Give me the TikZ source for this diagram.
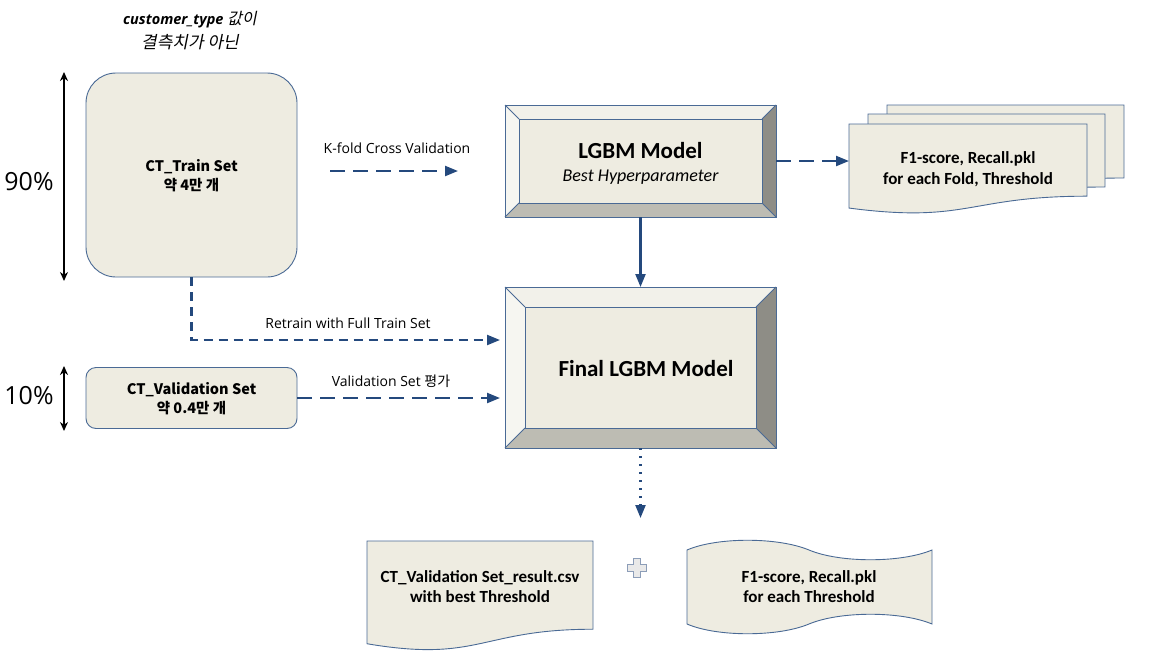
\documentclass[tikz,border=0pt]{standalone}
\usepackage{fontspec}
\setmainfont{Open Sans}
\newfontfamily\calfont{Carlito}
\newfontfamily\krfont{Noto Sans CJK KR}
\newfontfamily\kritfont{Noto Sans CJK KR}[FakeSlant=0.2]
\usetikzlibrary{arrows.meta}
\definecolor{boxfill}{HTML}{EEECE1}
\definecolor{edgeblue}{HTML}{4A6A95}
\definecolor{arrowblue}{HTML}{24497D}
\definecolor{bvtop}{HTML}{F2F1EA}
\definecolor{bvleft}{HTML}{F6F6F1}
\definecolor{bvright}{HTML}{8E8D86}
\definecolor{bvbot}{HTML}{BDBCB3}
\definecolor{plusfill}{HTML}{E9E9E9}
\definecolor{plusedge}{HTML}{8C9DB8}
\newcommand\BevelBox[5]{%
  \fill[bvtop] (#1,#2) -- (#3,#2) -- ({#3-#5},{#2+#5}) -- ({#1+#5},{#2+#5}) -- cycle;
  \fill[bvleft] (#1,#2) -- ({#1+#5},{#2+#5}) -- ({#1+#5},{#4-#5}) -- (#1,#4) -- cycle;
  \fill[bvright] (#3,#2) -- (#3,#4) -- ({#3-#5},{#4-#5}) -- ({#3-#5},{#2+#5}) -- cycle;
  \fill[bvbot] (#1,#4) -- (#3,#4) -- ({#3-#5},{#4-#5}) -- ({#1+#5},{#4-#5}) -- cycle;
  \fill[boxfill] ({#1+#5},{#2+#5}) rectangle ({#3-#5},{#4-#5});
  \draw[edgeline] (#1,#2) rectangle (#3,#4);
  \draw[edgeline] ({#1+#5},{#2+#5}) rectangle ({#3-#5},{#4-#5});
  \draw[edgeline] (#1,#2) -- ({#1+#5},{#2+#5});
  \draw[edgeline] (#3,#2) -- ({#3-#5},{#2+#5});
  \draw[edgeline] (#1,#4) -- ({#1+#5},{#4-#5});
  \draw[edgeline] (#3,#4) -- ({#3-#5},{#4-#5});
}
\newcommand\DocShape[4]{%
  \filldraw[docshape] (#1,#3) -- (#2,#3) -- (#2,{#3+0.802*#4})
    .. controls ({(#1+#2)/2},{#3+0.802*#4}) and ({(#1+#2)/2},{#3+1.1075*#4}) ..
    (#1,{#3+0.934*#4}) -- cycle;
}
\tikzset{
  x=1pt, y=-1pt,
  edgeline/.style={draw=edgeblue, line width=0.9pt},
  docshape/.style={fill=boxfill, draw=edgeblue, line width=0.9pt},
  area/.style={draw=none, inner sep=0pt, outer sep=0pt},
  roundbox/.style={fill=boxfill, draw=edgeblue, line width=0.9pt, inner sep=0pt, outer sep=0pt},
  conn/.style={draw=arrowblue, line width=2.2pt, -{Triangle[length=13pt,width=10pt]}},
  longdash/.style={dash pattern=on 15pt off 8pt},
  shortdash/.style={dash pattern=on 9pt off 6pt},
  dotline/.style={dash pattern=on 2.4pt off 5.6pt},
  dblarrow/.style={draw=black, line width=2pt, {Stealth[length=9pt,width=8pt]}-{Stealth[length=9pt,width=8pt]}},
  lbl/.style={inner sep=0pt, font=\fontsize{14}{16}\selectfont},
  pct/.style={inner sep=0pt, font=\fontsize{25}{28}\selectfont},
  settext/.style={inner sep=0pt, align=center, font=\krfont\bfseries\fontsize{14.5}{19}\selectfont},
  doctext/.style={inner sep=0pt, align=center, font=\calfont\bfseries\fontsize{17}{20}\selectfont},
  modeltitle/.style={inner sep=0pt, anchor=base, font=\calfont\bfseries\fontsize{23}{25}\selectfont},
  modelsub/.style={inner sep=0pt, anchor=base, font=\calfont\itshape\fontsize{18}{20}\selectfont},
}
\begin{document}
\begin{tikzpicture}
\useasboundingbox (0,0) rectangle (1152,670);
% title
\node[inner sep=0pt, font=\fontsize{14.5}{16}\selectfont] (title1) at (190,20)
  {{\bfseries\itshape customer\_type} {\kritfont\fontsize{16}{18}\selectfont 값이}};
\node[inner sep=0pt, font=\kritfont\fontsize{17}{19}\selectfont] (title2) at (190,42) {결측치가 아닌};
% train and validation boxes
\node[roundbox, rounded corners=30pt, minimum width=211pt, minimum height=204pt] (train) at (191.5,175) {};
\node[settext] (trainlbl) at (191.5,176) {CT\_Train Set\\약 4만 개};
\node[roundbox, rounded corners=10pt, minimum width=211pt, minimum height=61pt] (val) at (191.5,398) {};
\node[settext] (vallbl) at (191.5,399) {CT\_Validation Set\\약 0.4만 개};
% percentages
\coordinate (ninetop) at (64,72);
\coordinate (ninebot) at (64,281);
\draw[dblarrow] (ninetop) -- (ninebot);
\node[pct] (ninety) at (29,182) {90\%};
\coordinate (tentop) at (64,366);
\coordinate (tenbot) at (64,431);
\draw[dblarrow] (tentop) -- (tenbot);
\node[pct] (ten) at (29,396) {10\%};
% LGBM model
\BevelBox{505}{105}{776}{217}{14}
\node[area, minimum width=271pt, minimum height=112pt] (lgbm) at (640.5,161) {};
\node[modeltitle] (lgbmlbl) at (640.5,158.5) {LGBM Model};
\node[modelsub] (lgbmsub) at (640.5,181.5) {Best Hyperparameter};
% final model
\BevelBox{505}{287}{776}{448}{20}
\node[area, minimum width=271pt, minimum height=161pt] (final) at (640.5,367.5) {};
\node[modeltitle] (finallbl) at (646,376) {Final LGBM Model};
% stacked documents
\DocShape{887}{1124}{105}{91}
\DocShape{868}{1105}{114}{91}
\DocShape{849}{1087}{124}{90}
\node[area, minimum width=238pt, minimum height=90pt] (docfront) at (968,169) {};
\node[doctext, font=\calfont\bfseries\fontsize{17}{21.5}\selectfont] (docfrontlbl) at (968,169)
  {F1-score, Recall.pkl\\for each Fold, Threshold};
% bottom outputs
\DocShape{367}{593}{541}{110}
\node[doctext] (resultlbl) at (480,587) {CT\_Validation Set\_result.csv\\with best Threshold};
\filldraw[fill=boxfill, draw=edgeblue, line width=0.9pt]
  (687,550) .. controls (717,537) and (778,537) .. (809,550)
            .. controls (840,563) and (901,563) .. (932,550)
  -- (932,624) .. controls (901,611) and (840,611) .. (809,624)
               .. controls (778,637) and (717,637) .. (687,624) -- cycle;
\node[doctext] (tapelbl) at (809,587) {F1-score, Recall.pkl\\for each Threshold};
\filldraw[fill=plusfill, draw=plusedge, line width=0.9pt]
  (633.5,558.5) -- (640.5,558.5) -- (640.5,564.5) -- (646.5,564.5) -- (646.5,571.5)
  -- (640.5,571.5) -- (640.5,577.5) -- (633.5,577.5) -- (633.5,571.5) -- (627.5,571.5)
  -- (627.5,564.5) -- (633.5,564.5) -- cycle;
% connectors
\coordinate (kfs) at (330,171);
\coordinate (kfe) at (458,171);
\draw[conn, longdash] (kfs) -- (kfe);
\node[lbl] (kflbl) at (397,148) {K-fold Cross Validation};
\draw[conn, longdash] (lgbm.east) -- (lgbm.east -| docfront.west);
\draw[conn] (lgbm.south) -- (final.north);
\coordinate (retrainend) at (500,340);
\draw[conn, shortdash] (train.south) |- (retrainend);
\node[lbl] (retrainlbl) at (348,323) {Retrain with Full Train Set};
\coordinate (valend) at (500,398);
\draw[conn, longdash] (val.east) -- (valend);
\node[lbl] (vallbl2) at (391,381) {Validation Set {\krfont 평가}};
\coordinate (dotend) at (640.5,518);
\draw[conn, dotline] (final.south) -- (dotend);
\end{tikzpicture}
\end{document}
